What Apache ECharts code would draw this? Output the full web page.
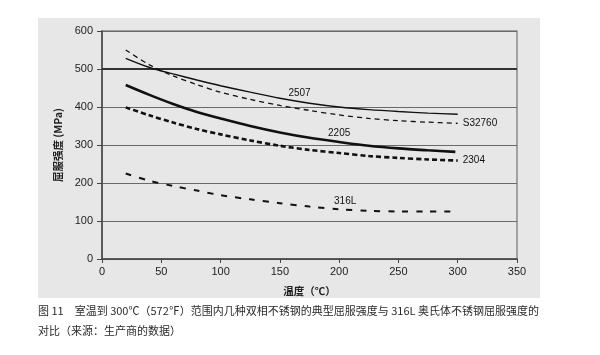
<!DOCTYPE html>
<html>
<head>
<meta charset="utf-8">
<script src="https://cdn.jsdelivr.net/npm/echarts@6/dist/echarts.min.js"></script>
<style>
html,body{margin:0;padding:0;background:#fff;}
#c{width:600px;height:355px;}
</style>
</head>
<body>
<div id="c"></div>
<script>
// Temperature (°C) sample points
var temps = [20, 40, 60, 80, 100, 125, 150, 175, 200, 225, 250, 275, 300];
var temps316 = [20, 40, 60, 80, 100, 125, 150, 175, 200, 225, 250, 275, 296];
var temps2205 = [20, 40, 60, 80, 100, 125, 150, 175, 200, 225, 250, 275, 298];
// Yield strength (MPa)
var s2507   = [528, 504, 487, 471, 456, 439, 423, 410, 400, 393, 388, 384, 381];
var s32760  = [550, 511, 482, 459, 439, 420, 404, 391, 379, 370, 364, 360, 357];
var s2205   = [458, 432, 408, 387, 370, 350, 333, 319, 308, 298, 291, 286, 282];
var s2304   = [399, 378, 359, 342, 328, 312, 298, 287, 279, 271, 266, 262, 259];
var s316L   = [225, 206, 192, 180, 168, 157, 147, 138, 131, 127, 125, 125, 125];
var xTicks = [0, 50, 100, 150, 200, 250, 300, 350];
var yTicks = [0, 100, 200, 300, 400, 500, 600];
var yName = '屈服强度 (MPa)';
var xName = '温度（℃）';
var caption1 = '图 11　室温到 300℃（572℉）范围内几种双相不锈钢的典型屈服强度与 316L 奥氏体不锈钢屈服强度的';
var caption2 = '对比（来源：生产商的数据）';

function pts(xs, ys, labelAt, labelText, offset) {
  return xs.map(function (x, i) {
    var d = { value: [x, ys[i]] };
    if (x === labelAt) {
      d.label = {
        show: true, position: 'top', formatter: labelText, offset: offset,
        color: '#111', fontSize: 10, fontFamily: 'Liberation Sans, Arial, sans-serif'
      };
    }
    return d;
  });
}

var chart = echarts.init(document.getElementById('c'), null, { renderer: 'canvas' });
var lineBase = { type: 'line', smooth: 0.3, symbol: 'circle', symbolSize: 0,
  showSymbol: true, showAllSymbol: true, silent: true, z: 5, label: { show: false } };
var font = 'Liberation Sans, Arial, sans-serif';

chart.setOption({
  animation: false,
  backgroundColor: '#ffffff',
  graphic: [
    { type: 'rect', z: -10, shape: { x: 38, y: 18, width: 502, height: 280 },
      style: { fill: '#e7e7e7' } },
    { type: 'text', left: 38, top: 305,
      style: { text: caption1, fill: '#2a2a2a', font: '11px "Noto Sans CJK SC", sans-serif' } },
    { type: 'text', left: 38, top: 325,
      style: { text: caption2, fill: '#2a2a2a', font: '11px "Noto Sans CJK SC", sans-serif' } }
  ],
  grid: { left: 102, right: 83, top: 31, bottom: 96, show: true,
          borderColor: '#8a8a8a', borderWidth: 1.5, backgroundColor: 'transparent' },
  xAxis: {
    type: 'value', min: 0, max: 350, interval: 50,
    name: xName, nameLocation: 'middle', nameGap: 27,
    nameTextStyle: { fontSize: 10.5, color: '#222', fontWeight: 'bold', fontFamily: '"Noto Sans CJK SC", sans-serif' },
    axisLine: { show: true, lineStyle: { color: '#444', width: 1.5 } },
    axisTick: { show: true, length: 4, inside: false, lineStyle: { color: '#444' } },
    axisLabel: { margin: 7, fontSize: 11, color: '#222', fontFamily: font,
      formatter: function (v) { return xTicks.indexOf(v) >= 0 ? String(v) : ''; } },
    splitLine: { show: false }
  },
  yAxis: {
    type: 'value', min: 0, max: 600, interval: 100,
    name: yName, nameLocation: 'middle', nameGap: 33, nameRotate: 90,
    nameTextStyle: { fontSize: 10.5, color: '#222', fontWeight: 'bold', fontFamily: '"Noto Sans CJK SC", sans-serif' },
    axisLine: { show: true, lineStyle: { color: '#444', width: 1.5 } },
    axisTick: { show: true, length: 5, lineStyle: { color: '#444' } },
    axisLabel: { margin: 9, fontSize: 11, color: '#222', fontFamily: font,
      formatter: function (v) { return yTicks.indexOf(v) >= 0 ? String(v) : ''; } },
    splitLine: { show: true, lineStyle: { color: '#6a6a6a', width: 1.2 } }
  },
  series: [
    Object.assign({}, lineBase, {
      name: '2507', data: pts(temps, s2507, 175, '2507', [-10, 0]),
      lineStyle: { color: '#111', width: 1.4, type: 'solid' },
      markLine: { silent: true, symbol: 'none', label: { show: false },
        lineStyle: { color: '#333', width: 2.2, type: 'solid' }, data: [{ yAxis: 500 }] }
    }),
    Object.assign({}, lineBase, {
      name: 'S32760', data: pts(temps, s32760, -1, '', [0, 0]),
      lineStyle: { color: '#111', width: 1.3, type: [5, 4] },
      endLabel: { show: true, formatter: 'S32760', distance: 5, color: '#111', fontSize: 10, fontFamily: font }
    }),
    Object.assign({}, lineBase, {
      name: '2205', data: pts(temps2205, s2205, 200, '2205', [0, 1]),
      lineStyle: { color: '#111', width: 2.6, type: 'solid' }
    }),
    Object.assign({}, lineBase, {
      name: '2304', data: pts(temps, s2304, -1, '', [0, 0]),
      lineStyle: { color: '#111', width: 2.6, type: [5, 3] },
      endLabel: { show: true, formatter: '2304', distance: 5, color: '#111', fontSize: 10, fontFamily: font }
    }),
    Object.assign({}, lineBase, {
      name: '316L', data: pts(temps316, s316L, 200, '316L', [6, 2]),
      lineStyle: { color: '#111', width: 2, type: [6, 8] }
    })
  ]
});
</script>
</body>
</html>
